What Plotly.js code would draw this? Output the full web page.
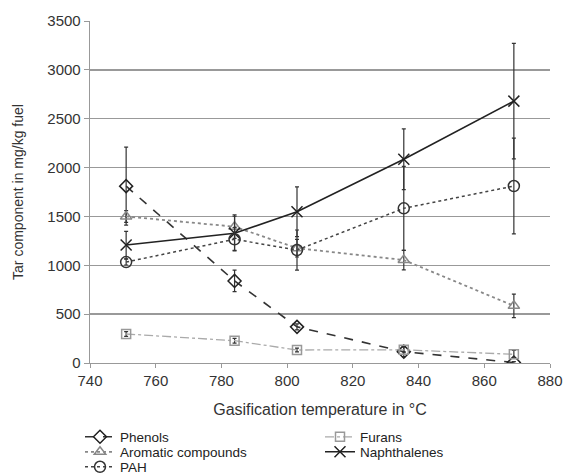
<!DOCTYPE html>
<html><head><meta charset="utf-8">
<script src="https://cdn.plot.ly/plotly-3.0.1.min.js"></script>
<style>body{margin:0;background:#fff}#c{width:564px;height:475px}</style>
</head><body><div id="c"></div>
<script>
var temps = [751, 784, 803, 835.5, 869];
var phenols = [1810, 840, 370, 116, 5];
var phenolsErr = [400, 110, 30, 50, 10];
var furans = [297, 228, 133, 135, 89];
var furansErr = [25, 25, 20, 30, 40];
var aromatic = [1500, 1395, 1175, 1054, 585];
var aromaticErr = [60, 120, 90, 100, 120];
var naph = [1207, 1327, 1548, 2085, 2680];
var naphErr = [140, 175, 255, 310, 590];
var pah = [1033, 1266, 1156, 1583, 1811];
var pahErr = [30, 120, 205, 430, 490];

function tr(name, y, err, color, dash, sym, lw, msize, mcol, leg){
  return {x: temps, y: y, name: name, type: 'scatter', mode: 'lines+markers', legend: leg,
    line: {color: color, dash: dash, width: lw},
    marker: {symbol: sym, size: msize, color: mcol, line: {color: mcol, width: 1.5}},
    error_y: {type: 'data', array: err, visible: true, color: '#333', thickness: 1.2, width: 2}};
}
var data = [
  tr('Phenols', phenols, phenolsErr, '#333', 'dash', 'diamond-open', 1.6, 10, '#222', 'legend'),
  tr('Furans', furans, furansErr, '#aaa', 'dashdot', 'square-open', 1.3, 9, '#999', 'legend2'),
  tr('Aromatic compounds', aromatic, aromaticErr, '#888', 'dot', 'triangle-up-open', 1.8, 10, '#888', 'legend3'),
  tr('Naphthalenes', naph, naphErr, '#222', 'solid', 'x-thin-open', 1.6, 11, '#222', 'legend4'),
  tr('PAH', pah, pahErr, '#444', 'dot', 'circle-open', 1.5, 11, '#333', 'legend5')
];
function leg(xpx, ypx){
  return {orientation: 'h', xref: 'container', yref: 'container', x: xpx / 564, xanchor: 'left',
    y: 1 - ypx / 475, yanchor: 'middle', itemwidth: 30,
    font: {size: 13.5, color: '#222'}, bgcolor: 'rgba(0,0,0,0)', borderwidth: 0};
}
var layout = {
  width: 564, height: 475,
  margin: {l: 90, r: 14, t: 21, b: 112, autoexpand: false},
  paper_bgcolor: '#fff', plot_bgcolor: '#fff',
  font: {family: 'Liberation Sans, Arial, sans-serif', size: 14, color: '#333'},
  xaxis: {range: [740, 880], dtick: 20, tick0: 740, showgrid: false, zeroline: false,
    showline: true, linecolor: '#999', linewidth: 1.3, ticks: 'outside', ticklen: 4, tickcolor: '#999',
    tickfont: {size: 15, color: '#333'},
    title: {text: 'Gasification temperature in °C', font: {size: 16, color: '#333'}, standoff: 15}},
  yaxis: {range: [0, 3500], dtick: 500, showgrid: true, gridcolor: '#999', gridwidth: 1.3,
    zeroline: false, showline: true, linecolor: '#999', linewidth: 1.3, ticks: 'outside', ticklen: 5, tickcolor: '#999',
    tickfont: {size: 15, color: '#333'},
    title: {text: 'Tar component in mg/kg fuel', font: {size: 14, color: '#333'}, standoff: 20}},
  showlegend: true,
  legend: leg(80, 437), legend2: leg(320, 437),
  legend3: leg(80, 452), legend4: leg(320, 452),
  legend5: leg(80, 467)
};
Plotly.newPlot('c', data, layout, {displayModeBar: false, staticPlot: true});
</script></body></html>
